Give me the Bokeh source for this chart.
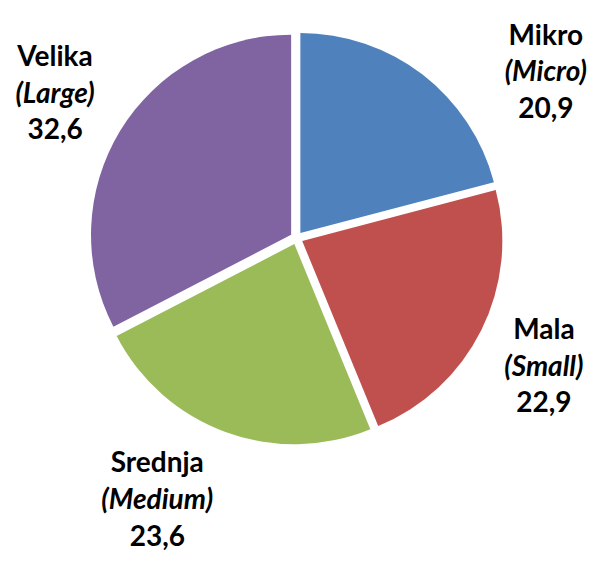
import math
from bokeh.plotting import figure
from bokeh.models import Range1d
from bokeh.core.properties import value
from bokeh.embed import file_html
from bokeh.resources import INLINE

# ---- data ----
names_local = ["Mikro", "Mala", "Srednja", "Velika"]
names_en = ["(Micro)", "(Small)", "(Medium)", "(Large)"]
shares = [20.9, 22.9, 23.6, 32.6]
colors = ["#4F81BD", "#C0504D", "#9BBB59", "#8064A2"]

# ---- layout (reference-pixel coordinates, 611 x 569 canvas) ----
REF_W, REF_H = 611, 569
W, H = 595, 553
CX, CY = 304.0, 244.5      # pie centre
R = 205.5                  # radius
EXPLODE = 6.5              # slice explosion
label_x = [560, 558, 161, 56]
label_mid_y = [72, 375, 512, 94]
LINE = 38
FONT = "Lato"
FSIZE = "28px"

def dy(ys):
    return REF_H - ys  # reference y (down) -> data y (up)

p = figure(width=W, height=H, output_backend="svg", toolbar_location=None,
           x_range=Range1d(0, REF_W), y_range=Range1d(0, REF_H),
           min_border=0)
p.axis.visible = False
p.grid.visible = False
p.outline_line_color = None
p.background_fill_color = "white"

total = sum(shares)
start_cw = 0.0
for i, v in enumerate(shares):
    span = v / total * 360.0
    a1, a2 = start_cw, start_cw + span
    mid = math.radians((a1 + a2) / 2)
    ox = EXPLODE * math.sin(mid)
    oy = EXPLODE * math.cos(mid)
    p.wedge(x=CX + ox, y=dy(CY) + oy, radius=R,
            start_angle=math.radians(90 - a2), end_angle=math.radians(90 - a1),
            fill_color=colors[i], line_color=None)
    start_cw = a2

for i in range(len(shares)):
    x = label_x[i]
    ym = label_mid_y[i]
    lines = [(names_local[i], "bold", ym - LINE),
             (names_en[i], "bold italic", ym),
             (f"{shares[i]:.1f}".replace(".", ","), "bold", ym + LINE)]
    for txt, style, ys in lines:
        p.text(x=[x], y=[dy(ys)], text=[txt], text_font=value(FONT),
               text_font_size=FSIZE, text_font_style=style,
               text_align="center", text_baseline="middle", text_color="black")

open("out.html", "w").write(file_html(p, INLINE))
